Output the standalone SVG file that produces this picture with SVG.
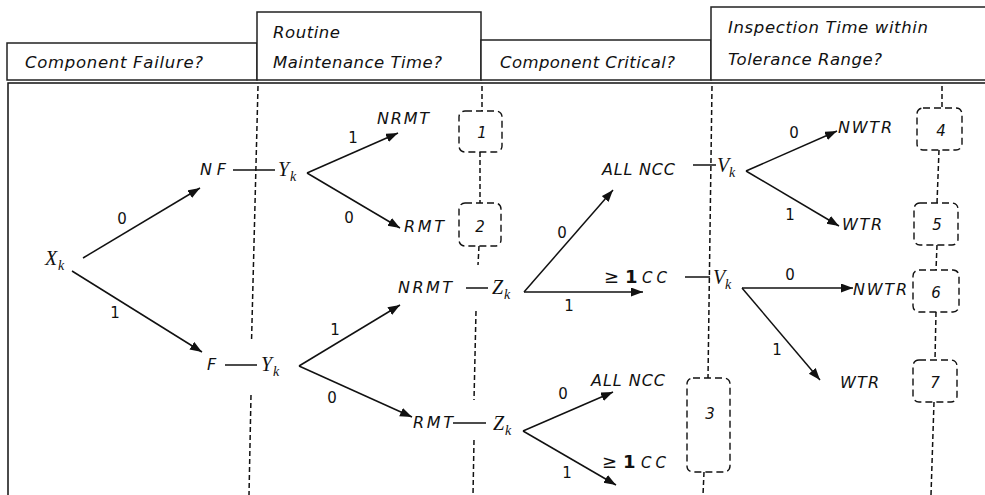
<svg xmlns="http://www.w3.org/2000/svg" width="985" height="495" viewBox="0 0 985 495">
<style>
.hd{fill:#fff;stroke:#222;stroke-width:1.5}
.ht{font-family:"DejaVu Sans",Verdana,sans-serif;font-style:italic;font-size:16.5px;fill:#111}
.lb{font-family:"DejaVu Sans",Verdana,sans-serif;font-style:italic;font-size:16px;fill:#111}
.dg{font-family:"DejaVu Sans",Verdana,sans-serif;font-size:15px;fill:#111;text-anchor:middle}
.mv{font-family:"Liberation Serif","DejaVu Serif",serif;font-style:italic;font-size:20px;fill:#111}
.ms{font-family:"Liberation Serif","DejaVu Serif",serif;font-style:italic;font-size:14px;fill:#111}
.ge{font-family:"DejaVu Sans",sans-serif;font-size:18px;fill:#111}
.one{font-family:"DejaVu Sans",sans-serif;font-weight:bold;font-size:18px;fill:#111}
.cc{font-family:"DejaVu Sans",Verdana,sans-serif;font-style:italic;font-size:15px;fill:#111}
.bx{fill:none;stroke:#111;stroke-width:1.4;stroke-dasharray:7 4}
.bn{font-family:"DejaVu Sans",Verdana,sans-serif;font-style:italic;font-size:15px;fill:#111;text-anchor:middle}
.dv{fill:none;stroke:#111;stroke-width:1.5;stroke-dasharray:5 3}
.ln{fill:none;stroke:#111;stroke-width:1.5}
.ar{fill:none;stroke:#111;stroke-width:1.5;marker-end:url(#ah)}
</style>
<defs>
<marker id="ah" markerUnits="userSpaceOnUse" markerWidth="13" markerHeight="10" refX="12" refY="4.5" orient="auto">
<path d="M0,0 L12,4.5 L0,9 z" fill="#111"/>
</marker>
</defs>
<rect width="985" height="495" fill="#fff"/>

<g id="header">
<rect class="hd" x="7" y="43" width="250" height="37"/>
<rect class="hd" x="257" y="12" width="224" height="68"/>
<rect class="hd" x="481" y="40" width="230" height="40"/>
<rect class="hd" x="711" y="7" width="280" height="73"/>
<text class="ht" x="25" y="68" textLength="178" lengthAdjust="spacing">Component Failure?</text>
<text class="ht" x="273" y="38" textLength="67" lengthAdjust="spacing">Routine</text>
<text class="ht" x="273" y="68" textLength="169" lengthAdjust="spacing">Maintenance Time?</text>
<text class="ht" x="500" y="68" textLength="175" lengthAdjust="spacing">Component Critical?</text>
<text class="ht" x="728" y="33" textLength="200" lengthAdjust="spacing">Inspection Time within</text>
<text class="ht" x="728" y="65" textLength="154" lengthAdjust="spacing">Tolerance Range?</text>
</g>

<g id="frame">
<path class="ln" d="M8,495 L8,83 L985,83"/>
</g>

<g id="dividers">
<path class="dv" d="M258,86 L251.5,342"/>
<path class="dv" d="M251,395 L249,495"/>
<path class="dv" d="M482,86 L482,111"/>
<path class="dv" d="M480,152 L480,203"/>
<path class="dv" d="M479,246 L478,265"/>
<path class="dv" d="M476,311 L474,400"/>
<path class="dv" d="M474,440 L473,495"/>
<path class="dv" d="M712,86 L708,378"/>
<path class="dv" d="M704,472 L703,495"/>
<path class="dv" d="M942,86 L942,108"/>
<path class="dv" d="M939,150 L937,203"/>
<path class="dv" d="M937,245 L936,270"/>
<path class="dv" d="M936,312 L935,360"/>
<path class="dv" d="M934,402 L931,495"/>
</g>

<g id="outcome-boxes">
<g id="box1"><rect class="bx" x="459" y="111" width="43" height="41" rx="6"/><text class="bn" x="482" y="138">1</text></g>
<g id="box2"><rect class="bx" x="459" y="203" width="42" height="43" rx="6"/><text class="bn" x="480" y="232">2</text></g>
<g id="box3"><rect class="bx" x="687" y="378" width="43" height="94" rx="6"/><text class="bn" x="710" y="419">3</text></g>
<g id="box4"><rect class="bx" x="917" y="108" width="45" height="42" rx="6"/><text class="bn" x="941" y="136">4</text></g>
<g id="box5"><rect class="bx" x="914" y="203" width="44" height="42" rx="6"/><text class="bn" x="937" y="230">5</text></g>
<g id="box6"><rect class="bx" x="913" y="270" width="46" height="42" rx="6"/><text class="bn" x="936" y="298">6</text></g>
<g id="box7"><rect class="bx" x="913" y="360" width="44" height="42" rx="6"/><text class="bn" x="935" y="388">7</text></g>
</g>

<g id="connectors">
<path class="ln" d="M233,170 L275,170"/>
<path class="ln" d="M225,365 L257,365"/>
<path class="ln" d="M466,288 L488,288"/>
<path class="ln" d="M453,423 L486,423"/>
<path class="ln" d="M693,165 L716,165"/>
<path class="ln" d="M685,277 L710,277"/>
<path class="ar" d="M83,258 L200,188"/>
<path class="ar" d="M72,271 L202,352"/>
<path class="ar" d="M307,173 L398,133"/>
<path class="ar" d="M307,173 L400,228"/>
<path class="ar" d="M299,366 L400,305"/>
<path class="ar" d="M299,366 L412,417"/>
<path class="ar" d="M524,292 L613,190"/>
<path class="ar" d="M524,292 L643,292"/>
<path class="ar" d="M523,431 L613,392"/>
<path class="ar" d="M523,431 L616,485"/>
<path class="ar" d="M746,171 L837,131"/>
<path class="ar" d="M746,171 L839,226"/>
<path class="ar" d="M742,288 L853,288"/>
<path class="ar" d="M742,288 L820,380"/>
<text class="dg" x="122" y="224">0</text>
<text class="dg" x="115" y="318">1</text>
<text class="dg" x="353" y="143">1</text>
<text class="dg" x="349" y="223">0</text>
<text class="dg" x="335" y="335">1</text>
<text class="dg" x="332" y="403">0</text>
<text class="dg" x="562" y="238">0</text>
<text class="dg" x="569" y="311">1</text>
<text class="dg" x="563" y="399">0</text>
<text class="dg" x="567" y="478">1</text>
<text class="dg" x="794" y="138">0</text>
<text class="dg" x="790" y="220">1</text>
<text class="dg" x="790" y="280">0</text>
<text class="dg" x="777" y="355">1</text>
</g>

<g id="Xk"><text class="mv" x="45" y="265">X</text><text class="ms" x="58" y="270">k</text></g>
<g id="NF"><text class="lb" x="200" y="175" textLength="26" lengthAdjust="spacing">NF</text></g>
<g id="F"><text class="lb" x="207" y="370">F</text></g>
<g id="Yk-top"><text class="mv" x="278" y="176">Y</text><text class="ms" x="290" y="181">k</text></g>
<g id="Yk-bottom"><text class="mv" x="261" y="371">Y</text><text class="ms" x="273" y="376">k</text></g>
<g id="NRMT-top"><text class="lb" x="377" y="124" textLength="52" lengthAdjust="spacing">NRMT</text></g>
<g id="RMT-top"><text class="lb" x="404" y="232" textLength="40" lengthAdjust="spacing">RMT</text></g>
<g id="NRMT-mid"><text class="lb" x="398" y="293" textLength="54" lengthAdjust="spacing">NRMT</text></g>
<g id="RMT-bottom"><text class="lb" x="413" y="428" textLength="40" lengthAdjust="spacing">RMT</text></g>
<g id="Zk-mid"><text class="mv" x="492" y="294">Z</text><text class="ms" x="504" y="299">k</text></g>
<g id="Zk-bottom"><text class="mv" x="493" y="430">Z</text><text class="ms" x="505" y="435">k</text></g>
<g id="ALLNCC-top"><text class="lb" x="602" y="175" textLength="73" lengthAdjust="spacing">ALL NCC</text></g>
<g id="CC-top"><text class="ge" x="604" y="283">≥</text><text class="one" x="625" y="283">1</text><text class="cc" x="642" y="283" textLength="25" lengthAdjust="spacing">CC</text></g>
<g id="ALLNCC-bottom"><text class="lb" x="591" y="386" textLength="74" lengthAdjust="spacing">ALL NCC</text></g>
<g id="CC-bottom"><text class="ge" x="602" y="468">≥</text><text class="one" x="623" y="468">1</text><text class="cc" x="641" y="468" textLength="25" lengthAdjust="spacing">CC</text></g>
<g id="Vk-top"><text class="mv" x="717" y="172">V</text><text class="ms" x="729" y="177">k</text></g>
<g id="Vk-mid"><text class="mv" x="713" y="284">V</text><text class="ms" x="725" y="289">k</text></g>
<g id="NWTR-top"><text class="lb" x="838" y="133" textLength="54" lengthAdjust="spacing">NWTR</text></g>
<g id="WTR-top"><text class="lb" x="842" y="230" textLength="40" lengthAdjust="spacing">WTR</text></g>
<g id="NWTR-mid"><text class="lb" x="853" y="295" textLength="54" lengthAdjust="spacing">NWTR</text></g>
<g id="WTR-bottom"><text class="lb" x="840" y="388" textLength="39" lengthAdjust="spacing">WTR</text></g>
</svg>
